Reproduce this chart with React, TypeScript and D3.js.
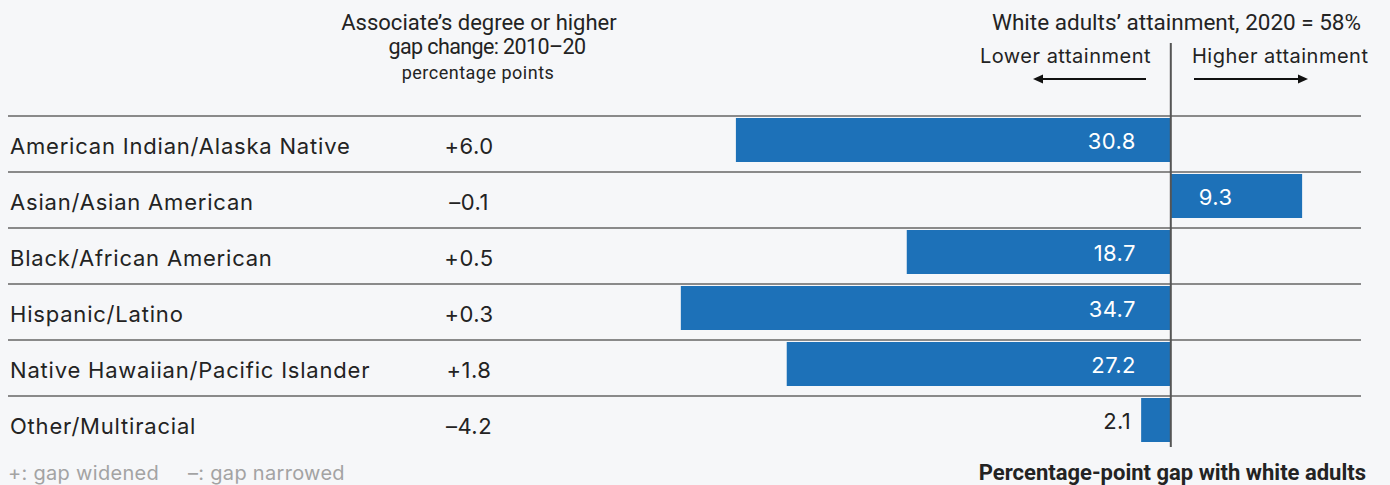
import * as d3 from 'd3'
import React from 'react'

const groups = [
  'American Indian/Alaska Native',
  'Asian/Asian American',
  'Black/African American',
  'Hispanic/Latino',
  'Native Hawaiian/Pacific Islander',
  'Other/Multiracial',
]
// percentage-point gap with white adults (negative = lower attainment)
const gaps = [-30.8, 9.3, -18.7, -34.7, -27.2, -2.1]
const gapChange = ['+6.0', '–0.1', '+0.5', '+0.3', '+1.8', '–4.2']

const W = 1390
const H = 485
const sans = "Inter, 'Noto Sans', sans-serif"
const narrow = "Roboto, 'Liberation Sans', sans-serif"
const blue = '#1d71b8'
const ink = '#232323'

const App = () => {
  const x = d3.scaleLinear().domain([-40, 10]).range([606, 1312])
  const y = d3.scaleBand().domain(groups).range([116, 452]).paddingInner(0)
  const x0 = x(0)
  const fmt = d3.format('.1f')

  return (
    <svg width={W} height={H} style={{ position: 'absolute', left: 0, top: 0, display: 'block' }}>
      <rect width={W} height={H} fill="#f6f7f9" />

      {/* column header */}
      <g fontFamily={narrow} fill={ink} textAnchor="middle">
        <text x={479} y={30} fontSize={22}>Associate’s degree or higher</text>
        <text x={487} y={54} fontSize={21.5} letterSpacing={-0.6}>gap change: 2010–20</text>
        <text x={478} y={79} fontSize={18} letterSpacing={0.5}>percentage points</text>
      </g>

      <text x={1361} y={30} fontFamily={narrow} fontSize={22.5} fill={ink} textAnchor="end">
        White adults’ attainment, 2020 = 58%
      </text>
      <text x={1151} y={63} fontFamily={sans} fontSize={20} letterSpacing={0.5} fill={ink} textAnchor="end">
        Lower attainment
      </text>
      <text x={1192} y={63} fontFamily={sans} fontSize={20} letterSpacing={0.5} fill={ink}>
        Higher attainment
      </text>
      <g stroke="#111" strokeWidth={2}>
        <line x1={1040} x2={1146} y1={79} y2={79} />
        <line x1={1194} x2={1300} y1={79} y2={79} />
      </g>
      <path d="M1033,79 L1043,74.5 L1043,83.5 Z" fill="#111" />
      <path d="M1308,79 L1298,74.5 L1298,83.5 Z" fill="#111" />

      {/* rows */}
      {groups.map((g, i) => {
        const top = y(g)
        const v = gaps[i]
        const bx = Math.min(x(v), x0)
        const bw = Math.abs(x(v) - x0)
        const mid = top + 30
        const inside = bw > 60
        let lx, anchor, col
        if (v < 0) {
          lx = inside ? x0 - 35 : bx - 10
          anchor = 'end'
          col = inside ? '#fff' : ink
        } else {
          lx = x0 + 28
          anchor = 'start'
          col = '#fff'
        }
        return (
          <g key={g}>
            <line x1={8} x2={1361} y1={top} y2={top} stroke="#8a8a8a" strokeWidth={2} />
            <rect x={bx} y={top + 2} width={bw} height={44} fill={blue} />
            <text x={10} y={mid} dominantBaseline="central" fontFamily={sans} fontSize={22} letterSpacing={0.8} fill={ink}>
              {g}
            </text>
            <text x={469} y={mid} dominantBaseline="central" textAnchor="middle" fontFamily={sans} fontSize={22} letterSpacing={0.5} fill={ink}>
              {gapChange[i]}
            </text>
            <text x={lx} y={top + 25} dominantBaseline="central" textAnchor={anchor} fontFamily={sans} fontSize={22} letterSpacing={0.4} fill={col}>
              {fmt(Math.abs(v))}
            </text>
          </g>
        )
      })}

      <line x1={x0} x2={x0} y1={43} y2={447} stroke="#555" strokeWidth={2} />

      {/* footer */}
      <g fontFamily={sans} fontSize={20} letterSpacing={0.3} fill="#a3a3a3">
        <text x={8} y={480}>+: gap widened</text>
        <text x={188} y={480}>–: gap narrowed</text>
      </g>
      <text x={1366} y={480} fontFamily={narrow} fontSize={22} fontWeight="bold" fill={ink} textAnchor="end">
        Percentage-point gap with white adults
      </text>
    </svg>
  )
}

export default App
